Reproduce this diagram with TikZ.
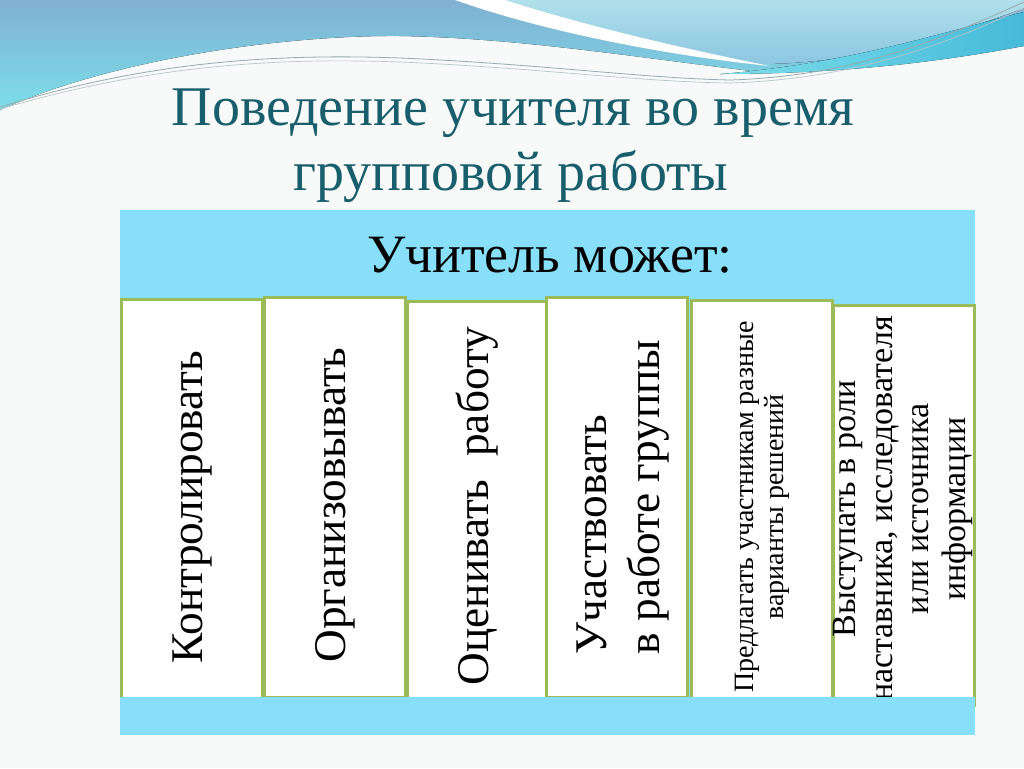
\documentclass[tikz,border=0pt]{standalone}
\usepackage{fontspec}
\setmainfont{Liberation Serif}
\usetikzlibrary{positioning}
\definecolor{pagebg}{RGB}{248,249,249}
\definecolor{titleteal}{RGB}{25,94,108}
\definecolor{panelblue}{RGB}{135,223,250}
\definecolor{boxolive}{RGB}{155,187,89}
\definecolor{wavesteel}{RGB}{128,176,210}
\definecolor{wavecyan}{RGB}{124,222,234}
\definecolor{wavepale}{RGB}{176,224,234}
\definecolor{wavemist}{RGB}{140,198,226}
\definecolor{wavedeep}{RGB}{70,186,218}
\definecolor{waveline}{RGB}{150,170,175}

\begin{document}
\begin{tikzpicture}[x=0.75pt, y=-0.75pt,
  card/.style={draw=boxolive, fill=white, line width=2.2pt, minimum width=106pt, minimum height=300pt, inner sep=0pt, anchor=north west},
  vtext/.style={rotate=90, align=center, inner sep=0pt, text=black},
  bigtxt/.style={vtext, font=\fontsize{34}{40}\selectfont},
  midtxt/.style={vtext, font=\fontsize{25.5}{27.5}\selectfont},
  smalltxt/.style={vtext, font=\fontsize{21}{22.5}\selectfont}]

% page and bounding box
\fill[pagebg] (0,0) rectangle (1024,768);
\useasboundingbox (0,0) rectangle (1024,768);

% decorative waves at the top
\fill[top color=wavesteel, bottom color=wavecyan]
  (0,0) -- (0,110) .. controls (110,60) and (280,35) .. (400,36)
  .. controls (520,38) and (640,58) .. (760,72)
  .. controls (860,68) and (960,35) .. (1024,15) -- (1024,0) -- cycle;
\fill[top color=wavepale, bottom color=wavemist]
  (490,0) .. controls (575,30) and (680,58) .. (760,64)
  .. controls (860,64) and (960,32) .. (1024,8) -- (1024,0) -- cycle;
\fill[white]
  (455,0) .. controls (545,32) and (670,56) .. (770,66)
  .. controls (690,50) and (585,26) .. (505,0) -- cycle;
\fill[left color=wavecyan, right color=wavedeep]
  (720,74) .. controls (850,64) and (950,30) .. (1024,12)
  -- (1024,46) .. controls (950,60) and (850,74) .. (720,74) -- cycle;
\draw[waveline, line width=0.6pt]
  (0,107) .. controls (120,70) and (240,52) .. (400,58)
  .. controls (540,64) and (640,78) .. (730,80)
  .. controls (860,76) and (950,35) .. (1024,2);
\draw[waveline!70, line width=0.5pt]
  (0,109) .. controls (120,74) and (240,56) .. (400,62)
  .. controls (540,68) and (640,82) .. (730,83)
  .. controls (860,79) and (955,40) .. (1024,8);

% title
\node[text=titleteal, font=\fontsize{42}{48}\selectfont, anchor=base] (title1) at (513,125) {Поведение учителя во время};
\node[text=titleteal, font=\fontsize{42}{48}\selectfont, anchor=base] (title2) at (511,190) {групповой работы};

% blue panel with header
\fill[panelblue] (120,210) rectangle (975,735);
\node[font=\fontsize{40.5}{46}\selectfont, anchor=base] (header) at (550,272) {Учитель может:};

% cards
\node[card] (ctrl) at (120,298) {};
\node[card] (org) at (263,296) {};
\node[card] (eval) at (406,300) {};
\node[card] (join) at (545,296) {};
\node[card] (offer) at (690,299) {};
\node[card] (role) at (832,304) {};

% card texts
\node[bigtxt] (ctrltxt) at (192,507) {Контролировать};
\node[bigtxt] (orgtxt) at (335,505) {Организовывать};
\node[bigtxt] (evaltxt) at (477,506) {Оценивать~~работу};
\node[bigtxt, align=left] (jointxt) at (623,497) {Участвовать\\в работе группы};
\node[smalltxt] (offertxt) at (762,507) {Предлагать участникам разные\\варианты решений};
\node[midtxt] (roletxt) at (903,509) {Выступать в роли\\наставника, исследователя\\или источника\\информации};

% bottom band over the cards
\fill[panelblue] (120,697) rectangle (975,735);
\end{tikzpicture}
\end{document}
